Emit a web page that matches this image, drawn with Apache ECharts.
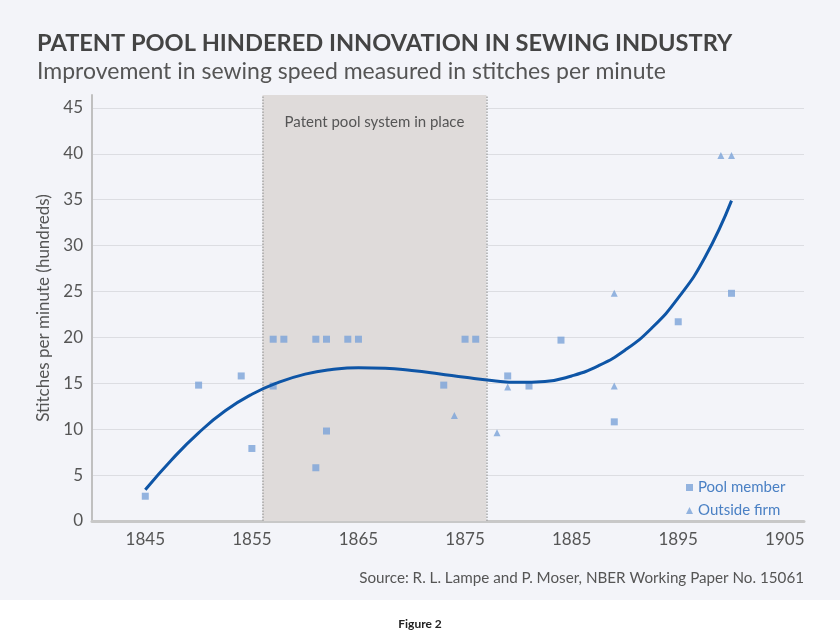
<!DOCTYPE html>
<html>
<head>
<meta charset="utf-8">
<script src="https://cdn.jsdelivr.net/npm/echarts@6/dist/echarts.min.js"></script>
<style>
html,body{margin:0;padding:0;background:#fff;}
#chart{width:840px;height:637px;}
</style>
</head>
<body>
<div id="chart"></div>
<script>
// ---- data ----
const poolMember = [
  [1845, 2.7], [1850, 14.8], [1854, 15.8], [1855, 7.9], [1857, 14.7],
  [1857, 19.8], [1858, 19.8], [1861, 19.8], [1862, 19.8], [1864, 19.8], [1865, 19.8],
  [1861, 5.8], [1862, 9.8], [1873, 14.8], [1875, 19.8], [1876, 19.8],
  [1879, 15.8], [1881, 14.7], [1884, 19.7], [1889, 10.8], [1895, 21.7], [1900, 24.8]
];
const outsideFirm = [
  [1874, 11.5], [1878, 9.6], [1879, 14.6], [1889, 24.8], [1889, 14.7], [1899, 39.8], [1900, 39.8]
];
const trendLine = [
  [1845, 3.4], [1847.5, 6.7], [1850, 9.6], [1852.5, 12.0], [1855, 13.8], [1857.5, 15.1],
  [1860, 16.0], [1862.5, 16.5], [1865, 16.7], [1867.5, 16.65], [1870, 16.4], [1872.5, 16.05],
  [1875, 15.65], [1877.5, 15.3], [1880, 15.1], [1882.5, 15.2], [1885, 15.8], [1887.5, 16.9],
  [1890, 18.6], [1892.5, 21.0], [1895, 24.3], [1897.5, 28.7], [1900, 34.9]
];
const poolPeriod = [1856, 1877];
const xTickLabels = [1845, 1855, 1865, 1875, 1885, 1895, 1905];
const yTickLabels = [0, 5, 10, 15, 20, 25, 30, 35, 40, 45];

const FONT = 'Lato';
const chart = echarts.init(document.getElementById('chart'), null, {renderer: 'canvas'});
chart.setOption({
  backgroundColor: '#ffffff',
  animation: false,
  graphic: [{
    type: 'rect', z: -10, silent: true,
    shape: {x: 0, y: 0, width: 840, height: 600},
    style: {fill: '#f3f4f9'}
  }],
  title: [
    {text: 'PATENT POOL HINDERED INNOVATION IN SEWING INDUSTRY', left: 32, top: 26,
     textStyle: {fontFamily: FONT, fontSize: 23.6, fontWeight: 'bold', color: '#444'}},
    {text: 'Improvement in sewing speed measured in stitches per minute', left: 32, top: 55,
     textStyle: {fontFamily: FONT, fontSize: 23, fontWeight: 'normal', color: '#555'}},
    {text: 'Source: R. L. Lampe and P. Moser, NBER Working Paper No. 15061', right: 31, top: 566,
     textStyle: {fontFamily: FONT, fontSize: 15.2, fontWeight: 'normal', color: '#555'}},
    {text: 'Figure 2', left: 'center', top: 613,
     textStyle: {fontFamily: FONT, fontSize: 12, fontWeight: 'bold', color: '#222'}}
  ],
  legend: {
    orient: 'vertical', left: 681, top: 474,
    itemWidth: 7, itemHeight: 7, itemGap: 6,
    textStyle: {fontFamily: FONT, fontSize: 15, color: '#4a80c4', lineHeight: 17},
    data: [{name: 'Pool member', icon: 'rect'}, {name: 'Outside firm', icon: 'triangle'}]
  },
  grid: {left: 92, right: 36, top: 95, bottom: 116, containLabel: false},
  xAxis: {
    type: 'value', min: 1840, max: 1906.8,
    axisLine: {show: true, lineStyle: {color: '#c8c8c8', width: 3}},
    axisTick: {show: false},
    splitLine: {show: false},
    axisLabel: {customValues: xTickLabels, formatter: (v) => String(v), margin: 10,
      fontFamily: FONT, fontSize: 17, color: '#555'}
  },
  yAxis: {
    type: 'value', min: 0, max: 46.4,
    name: 'Stitches per minute (hundreds)', nameLocation: 'middle', nameGap: 36,
    nameTextStyle: {fontFamily: FONT, fontSize: 17, color: '#555'},
    axisLine: {show: true, lineStyle: {color: '#c0c0c0', width: 2}},
    axisTick: {show: false, customValues: yTickLabels},
    splitLine: {show: true, lineStyle: {color: '#dcdde2', width: 1}},
    axisLabel: {customValues: yTickLabels, margin: 9, fontFamily: FONT, fontSize: 17, color: '#555'}
  },
  series: [
    {
      name: 'Pool member', type: 'scatter', symbol: 'rect', symbolSize: 7, z: 4,
      itemStyle: {color: '#7aa3d8'},
      data: poolMember,
      markArea: {
        silent: true,
        itemStyle: {color: '#dfdbda'},
        label: {show: true, position: 'insideTop', distance: 20,
          formatter: 'Patent pool system in place',
          fontFamily: FONT, fontSize: 15, color: '#555'},
        data: [[{xAxis: poolPeriod[0]}, {xAxis: poolPeriod[1]}]]
      },
      markLine: {
        silent: true, symbol: 'none', label: {show: false},
        lineStyle: {color: '#a8a8a8', type: 'dotted', width: 1.5},
        data: [{xAxis: poolPeriod[0]}, {xAxis: poolPeriod[1]}]
      }
    },
    {
      name: 'Outside firm', type: 'scatter', symbol: 'triangle', symbolSize: 7, z: 4,
      itemStyle: {color: '#7aa3d8'},
      data: outsideFirm
    },
    {
      name: 'Trend', type: 'line', smooth: 0.5, showSymbol: false, z: 5,
      lineStyle: {color: '#0e55a6', width: 3},
      data: trendLine
    }
  ]
});
</script>
</body>
</html>
